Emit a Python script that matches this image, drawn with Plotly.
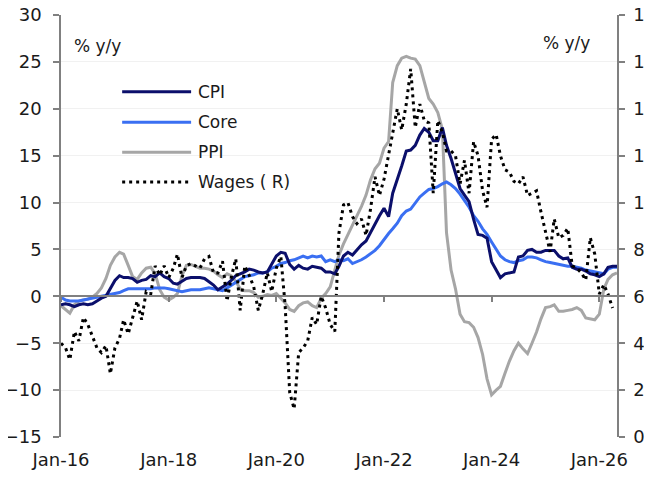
import pandas as pd
import plotly.graph_objects as go

# monthly data, Jan-2016 onwards
dates = pd.date_range("2016-01-01", periods=125, freq="MS")

cpi = [
    -0.9, -0.8, -0.9, -1.1, -0.9, -0.8, -0.9, -0.8, -0.5, -0.2, 0.0, 0.8,
    1.7, 2.2, 2.0, 2.0, 1.9, 1.5, 1.7, 1.8, 2.2, 2.1, 2.5, 2.1,
    1.9, 1.4, 1.3, 1.6, 1.9, 2.0, 2.0, 2.0, 1.9, 1.6, 1.2, 0.7,
    1.0, 1.3, 1.7, 2.2, 2.4, 2.6, 2.9, 2.8, 2.6, 2.5, 2.6, 3.4,
    4.3, 4.7, 4.6, 3.4, 2.9, 3.3, 3.0, 2.9, 3.2, 3.1, 3.0, 2.6,
    2.6, 2.4, 3.2, 4.3, 4.7, 4.4, 5.0, 5.5, 5.9, 6.8, 7.8, 8.6,
    9.4, 8.5, 11.0, 12.4, 13.9, 15.5, 15.6, 16.1, 17.2, 17.9, 17.5, 16.6,
    16.6, 18.0, 16.1, 14.7, 13.0, 11.5, 10.8, 10.1, 8.2, 6.6, 6.5, 6.2,
    3.7, 2.8, 2.0, 2.4, 2.5, 2.6, 4.2, 4.3, 4.9, 5.0, 4.7, 4.7,
    4.9, 4.9, 4.9, 4.3, 4.0, 4.1, 3.1, 2.9, 2.9, 2.7, 2.4, 2.3,
    2.1, 2.4, 3.1, 3.2, 3.2,
]

core = [
    -0.1, -0.4, -0.5, -0.5, -0.5, -0.4, -0.3, -0.2, -0.1, 0.0, 0.1, 0.2,
    0.3, 0.4, 0.6, 0.8, 0.8, 0.8, 0.8, 0.8, 0.8, 0.9, 0.9, 0.9,
    0.8, 0.7, 0.6, 0.5, 0.6, 0.7, 0.7, 0.7, 0.8, 0.9, 0.8, 0.7,
    0.6, 0.9, 1.2, 1.5, 1.8, 2.1, 2.2, 2.3, 2.5, 2.5, 2.6, 3.0,
    3.2, 3.5, 3.6, 3.8, 3.9, 4.1, 4.3, 4.1, 4.3, 4.2, 4.3, 3.7,
    3.9, 3.7, 3.9, 3.8, 4.0, 3.5, 3.7, 3.9, 4.2, 4.5, 4.9, 5.4,
    6.1, 6.7, 7.2, 7.8, 8.6, 9.1, 9.3, 9.9, 10.6, 11.0, 11.4, 11.5,
    11.7, 12.0, 12.2, 11.9, 11.5, 10.9, 10.2, 9.5, 8.6, 8.0, 7.2, 6.6,
    5.8, 5.0, 4.3, 3.9, 3.7, 3.6, 3.8, 3.9, 4.2, 4.2, 4.1, 3.9,
    3.7, 3.6, 3.5, 3.4, 3.3, 3.2, 3.2, 3.1, 3.0, 2.8, 2.7, 2.6,
    2.5, 2.4, 2.9, 3.1, 3.1,
]

ppi = [
    -1.0, -1.4, -1.8, -0.9, -0.5, -0.4, -0.3, -0.1, 0.3, 0.9, 1.9, 3.3,
    4.2, 4.7, 4.5, 3.3, 2.1, 1.8, 2.5, 3.0, 3.1, 2.4, 0.7, -0.1,
    -0.4, -0.1, 0.3, 2.2, 3.3, 3.4, 3.2, 3.0, 3.0, 2.9, 2.7, 2.3,
    2.0, 2.4, 2.2, 1.6, 0.8, 0.6, 0.6, 0.4, -0.1, 0.0, 0.2, 0.1,
    0.3, -0.2, -0.7, -1.4, -1.6, -1.0, -0.7, -0.6, -1.0, -1.2, -0.2, 0.3,
    1.0, 2.8, 4.4, 5.6, 6.6, 7.5, 8.6, 9.6, 10.8, 12.4, 13.6, 14.2,
    15.8, 16.5, 22.8, 24.6, 25.4, 25.6, 25.4, 25.3, 24.6, 23.0, 21.1, 20.5,
    19.6, 17.8, 6.8, 2.8, 0.8, -1.9, -2.7, -2.8, -3.3, -4.4, -6.2, -8.8,
    -10.5, -10.0, -9.6, -8.2, -6.9, -5.8, -5.0, -5.6, -6.1, -5.0, -3.8, -2.4,
    -1.2, -1.1, -0.9, -1.6, -1.6, -1.5, -1.4, -1.2, -1.5, -2.3, -2.4, -2.5,
    -1.9, 0.8, 1.8, 2.3, 2.5,
]

wages = [
    4.0, 3.8, 3.3, 4.5, 4.1, 5.1, 4.8, 4.3, 3.8, 3.6, 3.9, 2.7,
    3.8, 4.2, 5.0, 4.4, 5.1, 5.8, 5.0, 6.2, 6.1, 7.3, 6.9, 7.3,
    6.8, 7.2, 7.8, 6.8, 7.3, 7.4, 7.3, 7.2, 7.6, 7.7, 7.0, 7.0,
    7.5, 5.8, 6.8, 7.6, 5.4, 7.3, 6.9, 6.4, 5.4, 6.1, 7.0, 6.2,
    7.2, 7.7, 5.6, 1.9, 1.2, 3.6, 3.8, 4.1, 5.1, 4.8, 6.0, 5.5,
    4.8, 4.5, 8.7, 9.9, 10.0, 9.4, 9.1, 9.3, 8.6, 9.7, 11.1, 10.3,
    11.0, 12.0, 13.0, 14.0, 13.1, 14.2, 15.7, 13.2, 14.2, 13.5, 13.4, 10.4,
    13.5, 13.0, 12.2, 12.2, 12.0, 10.8, 11.8, 10.4, 12.6, 12.0, 10.5, 9.8,
    12.7, 12.9, 12.0, 11.4, 11.3, 10.9, 10.8, 11.1, 10.3, 10.4, 10.5, 9.6,
    8.7, 7.9, 9.3, 8.5, 8.6, 8.9, 7.3, 7.2, 7.0, 6.7, 8.5, 7.8,
    6.1, 6.5, 6.1, 5.5,
]

names = ["CPI", "Core", "PPI", "Wages ( R)"]
colors = ["#0b0f6b", "#3a6ff2", "#a6a6a6", "#000000"]

axis_grey = "#808080"
txt = "#1a1a1a"
font = "DejaVu Sans"
x_range = ["2016-01-01", "2026-05-01"]
dots = "3px,4px"

fig = go.Figure()
fig.add_trace(go.Scatter(x=dates, y=ppi, mode="lines", line=dict(color=colors[2], width=3)))
fig.add_trace(go.Scatter(x=dates, y=core, mode="lines", line=dict(color=colors[1], width=3)))
fig.add_trace(go.Scatter(x=dates, y=cpi, mode="lines", line=dict(color=colors[0], width=3)))
fig.add_trace(go.Scatter(x=dates[:len(wages)], y=wages, mode="lines", xaxis="x2", yaxis="y2",
                         line=dict(color=colors[3], width=3, dash=dots)))
fig.update_traces(showlegend=False, hoverinfo="skip")

# page has an 8px body margin, so the figure is sized to fit the window
fig.update_layout(
    width=644, height=469,
    margin=dict(l=53, r=35, t=7, b=40),
    paper_bgcolor="white", plot_bgcolor="white",
    font=dict(family=font, size=18, color=txt),
    xaxis=dict(range=x_range, tick0="2016-01-01", dtick="M24", tickformat="%b-%y",
               showgrid=False, zeroline=False, showline=False, ticks="",
               ticklabelstandoff=10, automargin=False, ticklabeloverflow="allow"),
    xaxis2=dict(range=x_range, overlaying="x", anchor="free", position=1/3,
                tick0="2016-01-01", dtick="M24", showticklabels=False,
                showgrid=False, zeroline=False, showline=True, linecolor=axis_grey, linewidth=2,
                ticks="outside", ticklen=5, tickwidth=1.5, tickcolor=axis_grey, automargin=False),
    yaxis=dict(range=[-15, 30], dtick=5, showgrid=True, gridcolor="#f1f1f1", gridwidth=1,
               zeroline=False, showline=True, linecolor=axis_grey, linewidth=1.5,
               ticks="outside", ticklen=6, tickwidth=1.5, tickcolor=axis_grey,
               ticklabelstandoff=8, automargin=False, ticklabeloverflow="allow"),
    yaxis2=dict(range=[0, 18], dtick=2, overlaying="y", side="right", anchor="x",
                showgrid=False, zeroline=False, showline=True, linecolor=axis_grey, linewidth=1.5,
                ticks="outside", ticklen=6, tickwidth=1.5, tickcolor=axis_grey,
                ticklabelstandoff=5, automargin=False, ticklabeloverflow="allow"),
)

# hand-drawn legend
leg_y = [0.818, 0.746, 0.675, 0.604]
for name, col, yy, dash in zip(names, colors, leg_y, ["solid", "solid", "solid", dots]):
    fig.add_shape(type="line", xref="paper", yref="paper", x0=0.110, x1=0.234, y0=yy, y1=yy,
                  line=dict(color=col, width=3, dash=dash))
    fig.add_annotation(xref="paper", yref="paper", x=0.243, y=yy, text=name, showarrow=False,
                       xanchor="left", yanchor="middle", font=dict(size=17, family=font, color=txt))

fig.add_annotation(xref="paper", yref="paper", x=0.020, y=0.927, text="% y/y", showarrow=False,
                   xanchor="left", yanchor="middle", font=dict(size=17, family=font, color=txt))
fig.add_annotation(xref="paper", yref="paper", x=0.955, y=0.934, text="% y/y", showarrow=False,
                   xanchor="right", yanchor="middle", font=dict(size=17, family=font, color=txt))

fig.write_html("out.html")
